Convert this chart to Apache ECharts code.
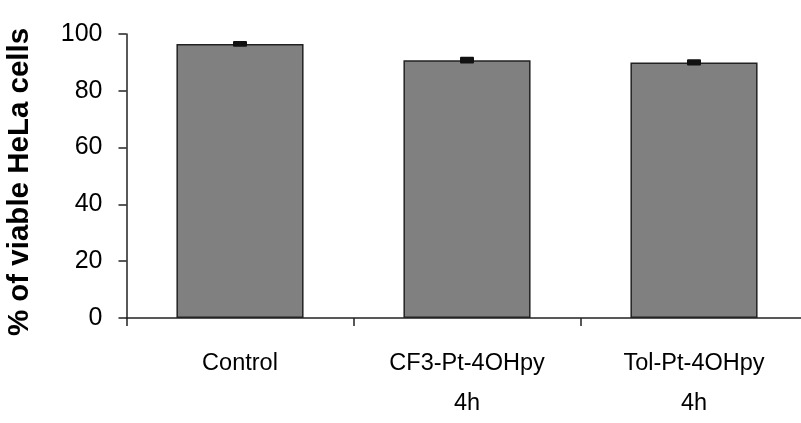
<!DOCTYPE html>
<html><head><meta charset="utf-8">
<script src="https://cdn.jsdelivr.net/npm/echarts@6/dist/echarts.min.js"></script>
<style>html,body{margin:0;padding:0;background:#fff}#c{width:801px;height:423px}</style>
</head><body><div id="c"></div>
<script>
const categories = ['Control', 'CF3-Pt-4OHpy\n4h', 'Tol-Pt-4OHpy\n4h'];
const values = [96.5, 90.8, 90.0];
const errors = [1.0, 1.2, 1.1];
const yTicks = [0, 20, 40, 60, 80, 100];

const chart = echarts.init(document.getElementById('c'), null, {renderer: 'canvas'});
const font = '"Liberation Sans", Arial, Helvetica, sans-serif';
chart.setOption({
  animation: false,
  grid: {left: 126.5, top: 34, width: 681, height: 284, outerBoundsMode: 'none', containLabel: false},
  xAxis: {
    type: 'category', data: categories,
    axisLine: {lineStyle: {color: '#222', width: 1.5}},
    axisTick: {show: true, length: 8, lineStyle: {color: '#222', width: 1.5}, alignWithLabel: false},
    axisLabel: {fontFamily: font, fontSize: 23.5, color: '#000', margin: 26, lineHeight: 40}
  },
  yAxis: {
    type: 'value', min: 0, max: 100, interval: 20,
    name: '% of viable HeLa cells', nameLocation: 'middle', nameGap: 92,
    nameTextStyle: {fontFamily: font, fontSize: 29.5, fontWeight: 'bold', color: '#000', padding: [0, 12, 0, 0]},
    splitLine: {show: false},
    axisLine: {show: true, lineStyle: {color: '#222', width: 1.5}},
    axisTick: {show: true, length: 8, lineStyle: {color: '#222', width: 1.5}},
    axisLabel: {fontFamily: font, fontSize: 25, color: '#000', margin: 24,
      formatter: v => yTicks.includes(v) ? String(v) : ''}
  },
  series: [{
    type: 'bar', data: values, barWidth: '56%',
    itemStyle: {color: '#808080', borderColor: '#222', borderWidth: 1.5}
  }, {
    type: 'custom',
    data: values.map((v, i) => [i, v - errors[i], v + errors[i]]),
    renderItem: function (params, api) {
      const lo = api.coord([api.value(0), api.value(1)]);
      const hi = api.coord([api.value(0), api.value(2)]);
      const hw = 7;
      return {type: 'group', children: [
        {type: 'rect', shape: {x: lo[0] - hw, y: hi[1], width: hw * 2, height: lo[1] - hi[1], r: 1},
         style: {fill: '#111'}}
      ]};
    },
    z: 10
  }]
});
</script></body></html>
